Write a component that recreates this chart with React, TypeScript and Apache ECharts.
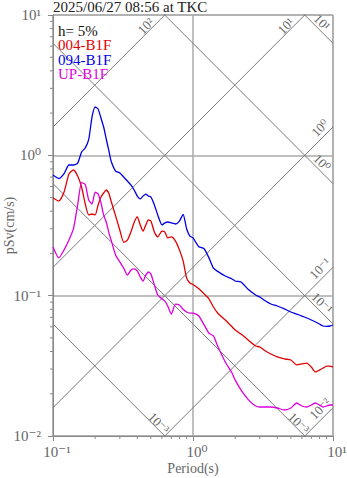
import React, { useEffect, useRef } from "react";
import * as echarts from "echarts";

const titleText = "2025/06/27 08:56 at TKC";
const dampingText = "h= 5%";
const seriesNames = ["004-B1F", "094-B1F", "UP-B1F"];
const seriesColors = ["#e00000", "#0000e6", "#dd00dd"];
const xAxisName = "Period(s)";
const yAxisName = "pSv(cm/s)";

const periods = [
  0.1, 0.11, 0.12, 0.13, 0.14, 0.15, 0.16, 0.17, 0.18, 0.19,
  0.2, 0.21, 0.22, 0.23, 0.24, 0.25, 0.26, 0.28, 0.3, 0.32,
  0.34, 0.36, 0.38, 0.4, 0.42, 0.44, 0.46, 0.48, 0.5, 0.53,
  0.56, 0.6, 0.63, 0.66, 0.7, 0.75, 0.8, 0.85, 0.9, 0.95,
  1.0, 1.1, 1.2, 1.3, 1.4, 1.5, 1.7, 1.9, 2.0, 2.2,
  2.5, 2.8, 3.0, 3.3, 3.6, 4.0, 4.5, 5.0, 5.5, 6.0,
  6.5, 7.0, 7.5, 8.0, 8.5, 9.0, 9.5, 10,
];

const sv004 = [
  0.497, 0.473, 0.548, 0.736, 0.786, 0.713, 0.595, 0.45, 0.376, 0.382,
  0.376, 0.443, 0.505, 0.539, 0.566, 0.539, 0.473, 0.37, 0.294, 0.24,
  0.249, 0.284, 0.333, 0.364, 0.319, 0.288, 0.319, 0.346, 0.34, 0.284,
  0.262, 0.288, 0.284, 0.258, 0.262, 0.245, 0.212, 0.177, 0.134, 0.123,
  0.12, 0.112, 0.103, 0.095, 0.083, 0.0752, 0.067, 0.06, 0.0569, 0.0533,
  0.048, 0.0438, 0.0431, 0.0403, 0.0384, 0.0366, 0.0354, 0.0348, 0.0321, 0.0326,
  0.0331, 0.031, 0.0286, 0.0295, 0.0305, 0.0315, 0.0315, 0.031,
];

const sv094 = [
  0.724, 0.684, 0.742, 0.853, 0.853, 0.88, 1.056, 1.13, 1.3, 1.876,
  2.21, 2.14, 1.846, 1.592, 1.307, 1.092, 0.911, 0.773, 0.749, 0.701,
  0.656, 0.615, 0.566, 0.513, 0.489, 0.513, 0.53, 0.513, 0.505, 0.443,
  0.376, 0.319, 0.33, 0.335, 0.33, 0.324, 0.34, 0.38, 0.3, 0.266,
  0.258, 0.223, 0.216, 0.186, 0.157, 0.149, 0.138, 0.1315, 0.1272, 0.125,
  0.11, 0.1011, 0.0978, 0.0916, 0.0872, 0.0844, 0.0804, 0.0765, 0.074, 0.0716,
  0.0693, 0.0671, 0.0649, 0.0628, 0.0608, 0.0604, 0.0608, 0.0618,
];

const svUP = [
  0.222, 0.186, 0.212, 0.249, 0.3, 0.443, 0.64, 0.62, 0.48, 0.45,
  0.546, 0.53, 0.46, 0.376, 0.335, 0.284, 0.249, 0.195, 0.174, 0.157,
  0.14, 0.152, 0.155, 0.15, 0.136, 0.127, 0.14, 0.1475, 0.143, 0.119,
  0.101, 0.095, 0.0915, 0.0844, 0.074, 0.087, 0.0858, 0.08, 0.0765, 0.0752,
  0.0752, 0.0716, 0.062, 0.054, 0.0517, 0.0438, 0.0337, 0.0281, 0.0251, 0.0213,
  0.018, 0.01636, 0.0161, 0.0161, 0.0161, 0.01583, 0.01532, 0.01583, 0.01718, 0.01636,
  0.0161, 0.01663, 0.01718, 0.01663, 0.0161, 0.01636, 0.01663, 0.01663,
];

// tripartite guide levels
const accelLevels = [0.01, 0.1, 1, 10, 100]; // cm/s^2
const accelLabels = ["10⁻²", "10⁻¹", "10⁰", "10¹", "10²"];
const dispLevels = [0.001, 0.01, 0.1, 1, 10]; // cm
const dispLabels = ["10⁻³", "10⁻³", "10⁻¹", "10⁰", "10¹"];

const X_MIN = 0.1, X_MAX = 10, Y_MIN = 0.01, Y_MAX = 10;
const FONT = "'Liberation Serif', 'DejaVu Serif', serif";
const SUP: Record<string, string> = { "-": "⁻", "0": "⁰", "1": "¹", "2": "²", "3": "³" };
const powLabel = (v: number) => {
  const e = Math.round(Math.log10(v));
  return "10" + String(e).split("").map((c) => SUP[c] || c).join("");
};

export default function App() {
  const ref = useRef<HTMLDivElement>(null);
  useEffect(() => {
    document.body.style.margin = "0";
    if (!ref.current) return;
    const chart = echarts.init(ref.current, undefined, { renderer: "svg" });
    const TWO_PI = 2 * Math.PI;

    const dataSeries = [sv004, sv094, svUP].map((vals, i) => ({
      type: "line",
      name: seriesNames[i],
      data: periods.map((t, j) => [t, vals[j]]),
      showSymbol: false,
      symbol: "none",
      smooth: 0.2,
      lineStyle: { color: seriesColors[i], width: 1.3 },
      z: 5,
      silent: true,
    }));

    const guideStyle = { color: "#7a7a7a", width: 1 };
    const accelLines = accelLevels.map((a) => ({
      type: "line",
      data: [
        [X_MIN, (a * X_MIN) / TWO_PI],
        [X_MAX, (a * X_MAX) / TWO_PI],
      ],
      symbol: "none",
      lineStyle: guideStyle,
      silent: true,
      z: 2,
    }));
    const dispLines = dispLevels.map((d) => ({
      type: "line",
      data: [
        [X_MIN, (TWO_PI * d) / X_MIN],
        [X_MAX, (TWO_PI * d) / X_MAX],
      ],
      symbol: "none",
      lineStyle: guideStyle,
      silent: true,
      z: 2,
    }));

    const xMinor: number[][] = [];
    [0.1, 1].forEach((dec) => { for (let k = 2; k <= 9; k++) xMinor.push([dec * k, Y_MIN]); });
    const yMinor: number[][] = [];
    [0.01, 0.1, 1].forEach((dec) => { for (let k = 2; k <= 9; k++) yMinor.push([X_MIN, dec * k]); });

    const xMinorSeries = {
      type: "custom",
      data: xMinor,
      silent: true,
      clip: false,
      renderItem: (_p: any, api: any) => {
        const p = api.coord([api.value(0), api.value(1)]);
        return { type: "line", shape: { x1: p[0], y1: p[1], x2: p[0], y2: p[1] + 3 }, style: { stroke: "#888", lineWidth: 1 } };
      },
    };
    const yMinorSeries = {
      type: "custom",
      data: yMinor,
      silent: true,
      clip: false,
      renderItem: (_p: any, api: any) => {
        const p = api.coord([api.value(0), api.value(1)]);
        return { type: "line", shape: { x1: p[0], y1: p[1], x2: p[0] - 3, y2: p[1] }, style: { stroke: "#888", lineWidth: 1 } };
      },
    };

    const axisCommon = {
      type: "log",
      logBase: 10,
      axisLine: { show: true, lineStyle: { color: "#888", width: 1 } },
      axisTick: { show: true, inside: false, length: 5, lineStyle: { color: "#888" } },
      splitLine: { show: true, lineStyle: { color: "#aaa", width: 1.5 } },
      minorTick: { show: false },
      axisLabel: { color: "#666", fontSize: 15, fontFamily: FONT, formatter: (v: number) => powLabel(v) },
    };

    chart.setOption({
      animation: false,
      grid: { left: 53, top: 15, width: 280, height: 421, show: true, borderColor: "#999", borderWidth: 1, containLabel: false, outerBoundsMode: "none" },
      xAxis: {
        ...axisCommon,
        min: X_MIN,
        max: X_MAX,
        axisLabel: { ...axisCommon.axisLabel, margin: 8, padding: [0, 0, 0, 8] },
      },
      yAxis: {
        ...axisCommon,
        min: Y_MIN,
        max: Y_MAX,
        axisLabel: { ...axisCommon.axisLabel, margin: 12 },
      },
      series: [...accelLines, ...dispLines, xMinorSeries, yMinorSeries, ...dataSeries],
    });

    // guide-line labels placed via the chart's own scales
    const toPx = (pt: number[]) => chart.convertToPixel({ gridIndex: 0 }, pt) as number[];
    const guideText = (pt: number[], off: number[], text: string, rot: number) => {
      const p = toPx(pt);
      return {
        type: "text",
        x: p[0] + off[0],
        y: p[1] + off[1],
        rotation: rot,
        silent: true,
        z: 4,
        style: { text, fill: "#666", fontSize: 13, fontFamily: FONT, align: "center", verticalAlign: "middle" },
      };
    };
    const accelTexts = accelLevels.map((a, i) => {
      const tTop = (Y_MAX * TWO_PI) / a;
      if (tTop <= X_MAX) return guideText([tTop, Y_MAX], [-19, 11], accelLabels[i], Math.PI / 4);
      return guideText([X_MAX, (a * X_MAX) / TWO_PI], [-13, 1], accelLabels[i], Math.PI / 4);
    });
    const dispTexts = dispLevels.map((d, i) => {
      const svRight = (TWO_PI * d) / X_MAX;
      if (svRight >= Y_MIN) return guideText([X_MAX, svRight], [-11, -21], dispLabels[i], -Math.PI / 4);
      return guideText([(TWO_PI * d) / Y_MIN, Y_MIN], [-6, -13], dispLabels[i], -Math.PI / 4);
    });

    const legendTexts = [dampingText, ...seriesNames].map((t, i) => ({
      type: "text",
      left: 58,
      top: 23 + i * 14.5,
      style: { text: t, fill: i === 0 ? "#111" : seriesColors[i - 1], fontSize: 15, fontFamily: FONT },
      z: 10,
    }));

    const midY = toPx([X_MIN, Math.sqrt(Y_MIN * Y_MAX)]);
    const midX = toPx([Math.sqrt(X_MIN * X_MAX), Y_MIN]);

    chart.setOption({
      graphic: [
        {
          type: "text",
          left: 53,
          top: -1,
          style: { text: titleText, fill: "#222", fontSize: 15, fontFamily: FONT },
        },
        {
          type: "text",
          x: 9,
          y: midY[1],
          rotation: Math.PI / 2,
          silent: true,
          style: { text: yAxisName, fill: "#666", fontSize: 14, fontFamily: FONT, align: "center", verticalAlign: "middle" },
        },
        {
          type: "text",
          x: midX[0],
          y: midX[1] + 32,
          silent: true,
          style: { text: xAxisName, fill: "#666", fontSize: 14, fontFamily: FONT, align: "center", verticalAlign: "middle" },
        },
        ...legendTexts,
        ...accelTexts,
        ...dispTexts,
      ],
    });
    return () => chart.dispose();
  }, []);
  return <div ref={ref} style={{ width: 347, height: 478 }} />;
}
